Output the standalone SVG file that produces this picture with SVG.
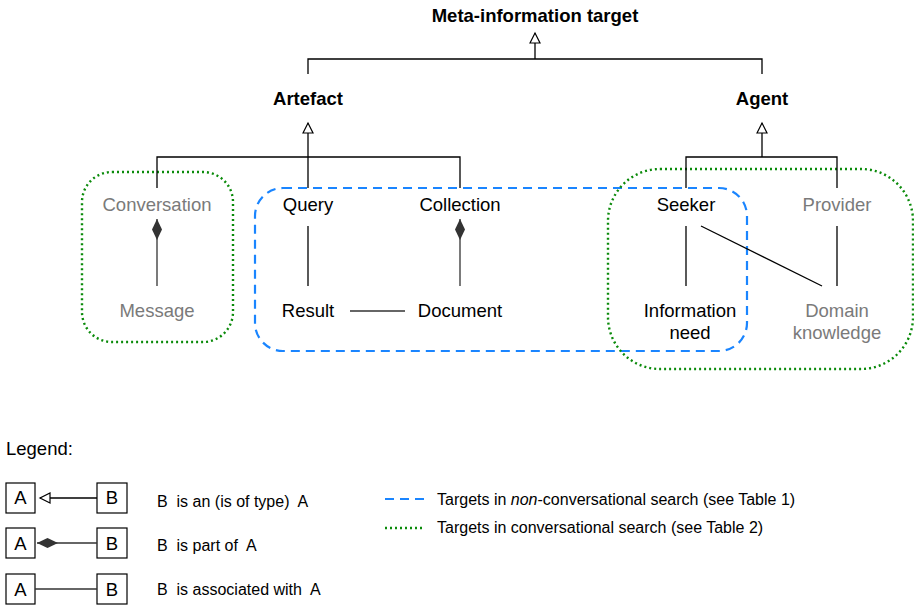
<svg xmlns="http://www.w3.org/2000/svg" width="914" height="605" viewBox="0 0 914 605">
  <style>
    text { font-family: "Liberation Sans", Arial, Helvetica, sans-serif; font-size: 18.5px; fill: #000; }
    .b { font-weight: bold; }
    .g { fill: #7a7a7a; }
    .c { text-anchor: middle; }
    .lg { font-size: 16px; }
    .ln { stroke: #000; stroke-width: 1.3; fill: none; }
    .lnd { stroke: #333; stroke-width: 1.3; fill: none; }
    .box { fill: #fff; stroke: #000; stroke-width: 1.2; }
    .blue { fill: none; stroke: #1a85ff; stroke-width: 2.2; stroke-dasharray: 9 6; }
    .green { fill: none; stroke: #0a8a0a; stroke-width: 2.4; stroke-dasharray: 2 3; }
  </style>
  <defs>
    <marker id="gen" markerUnits="userSpaceOnUse" markerWidth="14" markerHeight="14" refX="11" refY="6" orient="auto">
      <path d="M1,1 L11,6 L1,11 z" fill="#fff" stroke="#000" stroke-width="1.2"/>
    </marker>
    <marker id="comp" markerUnits="userSpaceOnUse" markerWidth="24" markerHeight="12" refX="22" refY="6" orient="auto">
      <path d="M1,6 L11.5,1 L22,6 L11.5,11 z" fill="#333"/>
    </marker>
  </defs>

  <!-- grouping outlines -->
  <g id="groups">
    <rect class="green" x="82" y="172" width="151" height="170" rx="30" ry="30"/>
    <rect class="blue" x="255" y="188" width="492" height="163" rx="28" ry="28"/>
    <rect class="green" x="608" y="169" width="305" height="200" rx="52" ry="52"/>
  </g>

  <!-- connectors -->
  <g id="connectors">
    <path class="ln" d="M308,74 V59 H762 V74"/>
    <path class="ln" d="M535,59 V33" marker-end="url(#gen)"/>
    <path class="ln" d="M157,188 V157 H460 V188 M308,157 V188"/>
    <path class="ln" d="M308,157 V123" marker-end="url(#gen)"/>
    <path class="ln" d="M686,188 V157 H837 V188"/>
    <path class="ln" d="M762,157 V123" marker-end="url(#gen)"/>
    <path class="lnd" d="M157,286 V219" marker-end="url(#comp)"/>
    <path class="lnd" d="M460,286 V219" marker-end="url(#comp)"/>
    <path class="ln" d="M308,226 V286"/>
    <path class="lnd" d="M350,311 H405"/>
    <path class="ln" d="M686,226 V286"/>
    <path class="ln" d="M837,226 V286"/>
    <path class="ln" d="M701,226 L822,286"/>
  </g>

  <!-- nodes -->
  <g id="meta"><text class="b c" x="535" y="22">Meta-information target</text></g>
  <g id="artefact"><text class="b c" x="308" y="105">Artefact</text></g>
  <g id="agent"><text class="b c" x="762" y="105">Agent</text></g>
  <g id="conversation"><text class="c g" x="157" y="211">Conversation</text></g>
  <g id="message"><text class="c g" x="157" y="317">Message</text></g>
  <g id="query"><text class="c" x="308" y="211">Query</text></g>
  <g id="result"><text class="c" x="308" y="317">Result</text></g>
  <g id="collection"><text class="c" x="460" y="211">Collection</text></g>
  <g id="document"><text class="c" x="460" y="317">Document</text></g>
  <g id="seeker"><text class="c" x="686" y="211">Seeker</text></g>
  <g id="information-need"><text class="c" x="690" y="317">Information</text><text class="c" x="690" y="339">need</text></g>
  <g id="provider"><text class="c g" x="837" y="211">Provider</text></g>
  <g id="domain-knowledge"><text class="c g" x="837" y="317">Domain</text><text class="c g" x="837" y="339">knowledge</text></g>

  <!-- legend -->
  <g id="legend">
    <text x="6" y="455">Legend:</text>

    <rect class="box" x="6" y="483" width="29" height="30"/>
    <text class="c" x="20.5" y="504">A</text>
    <rect class="box" x="97" y="483" width="30" height="30"/>
    <text class="c" x="112" y="504">B</text>
    <path class="ln" d="M97,498 H40" marker-end="url(#gen)"/>
    <text class="lg" x="157" y="507" xml:space="preserve">B  is an (is of type)  A</text>

    <rect class="box" x="6" y="528" width="29" height="30"/>
    <text class="c" x="20.5" y="550">A</text>
    <rect class="box" x="97" y="528" width="30" height="30"/>
    <text class="c" x="112" y="550">B</text>
    <path class="lnd" d="M97,543 H37" marker-end="url(#comp)"/>
    <text class="lg" x="157" y="551" xml:space="preserve">B  is part of  A</text>

    <rect class="box" x="6" y="574" width="29" height="30"/>
    <text class="c" x="20.5" y="596">A</text>
    <rect class="box" x="97" y="574" width="30" height="30"/>
    <text class="c" x="112" y="596">B</text>
    <path class="lnd" d="M35,589 H97"/>
    <text class="lg" x="157" y="595" xml:space="preserve">B  is associated with  A</text>

    <path class="blue" d="M385,499 H424"/>
    <text class="lg" x="437" y="505">Targets in <tspan font-style="italic">non</tspan>-conversational search (see Table 1)</text>
    <path class="green" d="M385,528 H424"/>
    <text class="lg" x="437" y="533">Targets in conversational search (see Table 2)</text>
  </g>
</svg>
